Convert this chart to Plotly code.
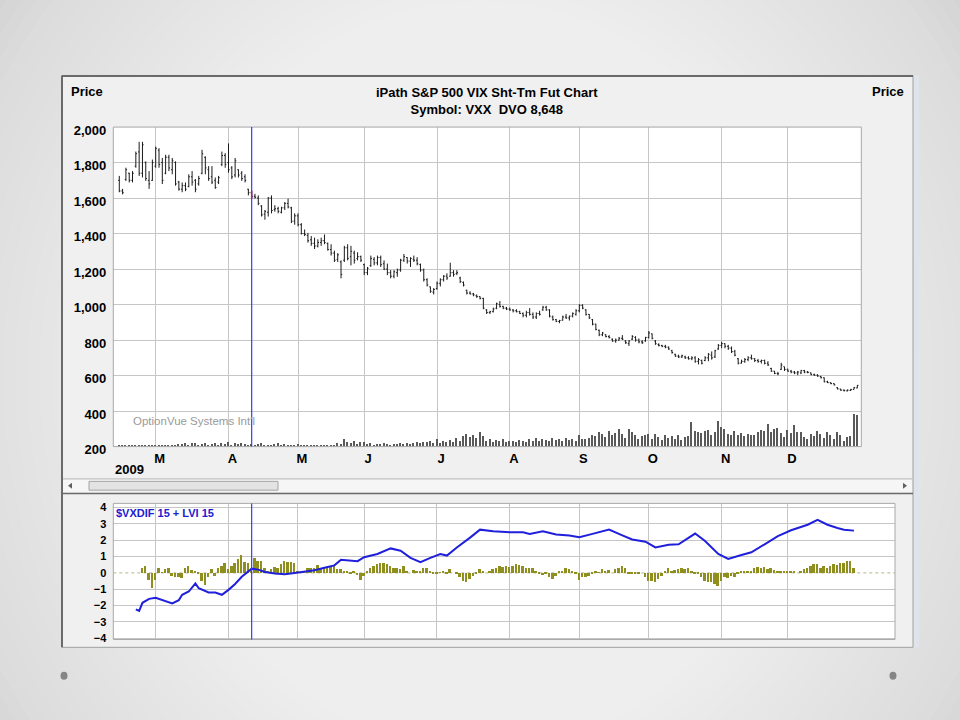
import plotly.graph_objects as go
import pandas as pd

W, H = 960, 720


def px(x):
    return x / W


def py(y):
    return 1 - y / H


# ---------------- data ----------------
holidays = ['2009-02-16', '2009-04-10', '2009-05-25', '2009-07-03',
            '2009-09-07', '2009-11-26', '2009-12-25']
dates = [d.strftime('%Y-%m-%d') for d in pd.bdate_range('2009-02-12', '2009-12-31')
         if d.strftime('%Y-%m-%d') not in holidays]

opens = [1700, 1640, 1705, 1740, 1700, 1780, 1860, 1740, 1800, 1700,
         1700, 1780, 1870, 1800, 1740, 1830, 1760, 1800, 1690, 1650,
         1670, 1665, 1720, 1700, 1680, 1740, 1830, 1760, 1720, 1700,
         1690, 1790, 1840, 1800, 1770, 1730, 1760, 1740, 1720, 1650,
         1630, 1610, 1600, 1555, 1510, 1520, 1600, 1535, 1540, 1520,
         1545, 1570, 1545, 1470, 1500, 1450, 1400, 1390, 1365, 1345,
         1330, 1350, 1360, 1345, 1310, 1290, 1255, 1240, 1250, 1320,
         1270, 1290, 1260, 1270, 1225, 1180, 1220, 1255, 1235, 1265,
         1230, 1200, 1180, 1160, 1180, 1195, 1250, 1265, 1245, 1255,
         1250, 1225, 1195, 1140, 1100, 1070, 1090, 1120, 1140, 1160,
         1160, 1180, 1175, 1150, 1125, 1080, 1065, 1060, 1050, 1045,
         1035, 970, 955, 960, 980, 1000, 990, 980, 975, 970,
         965, 960, 950, 940, 955, 945, 930, 950, 970, 985,
         970, 930, 915, 905, 912, 930, 925, 935, 945, 965,
         995, 970, 945, 915, 890, 855, 830, 830, 820, 805,
         795, 800, 810, 795, 780, 805, 815, 800, 790, 795,
         815, 835, 795, 775, 770, 765, 760, 740, 720, 710,
         705, 705, 700, 695, 700, 680, 685, 685, 700, 715,
         705, 750, 770, 780, 765, 755, 735, 695, 670, 680,
         690, 700, 695, 685, 680, 685, 670, 640, 625, 612,
         635, 650, 635, 625, 620, 615, 615, 628, 620, 615,
         605, 602, 595, 588, 565, 560, 555, 532, 524, 518,
         514, 516, 522, 530]

highs = [1725, 1652, 1771, 1743, 1752, 1862, 1917, 1917, 1807, 1752,
         1817, 1890, 1881, 1826, 1844, 1844, 1826, 1807, 1697, 1688,
         1688, 1734, 1752, 1707, 1725, 1872, 1835, 1780, 1780, 1716,
         1725, 1862, 1853, 1908, 1780, 1826, 1762, 1752, 1734, 1652,
         1642, 1624, 1615, 1560, 1533, 1606, 1615, 1560, 1551, 1551,
         1578, 1597, 1551, 1514, 1514, 1459, 1423, 1404, 1386, 1377,
         1368, 1377, 1395, 1349, 1340, 1304, 1290, 1249, 1331, 1340,
         1331, 1304, 1295, 1276, 1231, 1212, 1276, 1267, 1276, 1276,
         1249, 1231, 1194, 1194, 1203, 1258, 1285, 1267, 1267, 1276,
         1267, 1231, 1203, 1148, 1102, 1093, 1130, 1148, 1166, 1176,
         1236, 1194, 1194, 1157, 1130, 1084, 1075, 1066, 1057, 1047,
         1038, 974, 965, 983, 1011, 1020, 993, 987, 983, 974,
         974, 965, 956, 965, 980, 956, 956, 965, 993, 993,
         974, 938, 919, 914, 938, 947, 938, 956, 974, 1002,
         1002, 974, 947, 919, 892, 859, 846, 833, 828, 809,
         809, 818, 828, 800, 800, 828, 822, 809, 800, 818,
         851, 837, 800, 782, 773, 773, 764, 745, 723, 718,
         718, 712, 709, 709, 709, 699, 690, 709, 727, 736,
         745, 778, 791, 782, 773, 764, 745, 699, 690, 699,
         709, 718, 699, 694, 690, 690, 681, 644, 626, 621,
         672, 650, 639, 632, 626, 626, 632, 632, 626, 617,
         611, 608, 599, 589, 571, 562, 556, 534, 525, 522,
         522, 525, 536, 547]

lows = [1633, 1621, 1697, 1688, 1688, 1771, 1725, 1716, 1697, 1652,
        1697, 1771, 1771, 1679, 1734, 1752, 1734, 1670, 1642, 1633,
        1639, 1661, 1670, 1633, 1670, 1734, 1734, 1697, 1679, 1652,
        1679, 1780, 1771, 1743, 1707, 1716, 1716, 1697, 1688, 1615,
        1597, 1597, 1560, 1496, 1478, 1496, 1514, 1523, 1514, 1514,
        1533, 1542, 1459, 1450, 1441, 1395, 1386, 1349, 1331, 1313,
        1322, 1331, 1340, 1304, 1276, 1240, 1240, 1148, 1240, 1249,
        1221, 1231, 1249, 1240, 1166, 1166, 1212, 1221, 1221, 1212,
        1194, 1166, 1148, 1148, 1157, 1185, 1240, 1231, 1212, 1240,
        1221, 1185, 1130, 1102, 1066, 1057, 1084, 1102, 1130, 1139,
        1157, 1157, 1166, 1121, 1102, 1057, 1057, 1047, 1038, 1029,
        974, 947, 947, 956, 974, 983, 974, 969, 965, 956,
        956, 947, 928, 928, 938, 919, 919, 938, 965, 965,
        928, 910, 901, 895, 910, 919, 910, 928, 938, 956,
        974, 938, 919, 883, 855, 822, 822, 815, 809, 791,
        785, 796, 800, 778, 767, 800, 791, 782, 778, 791,
        809, 804, 773, 764, 760, 754, 745, 723, 705, 699,
        699, 694, 690, 687, 672, 663, 663, 681, 681, 690,
        699, 745, 754, 754, 745, 727, 709, 663, 668, 672,
        681, 690, 676, 672, 668, 663, 654, 621, 608, 602,
        632, 626, 621, 613, 608, 602, 608, 613, 613, 602,
        599, 593, 584, 562, 558, 551, 544, 522, 514, 511,
        511, 513, 522, 529]

closes = [1640, 1630, 1760, 1700, 1740, 1850, 1740, 1900, 1710, 1680,
          1800, 1880, 1790, 1700, 1830, 1770, 1810, 1680, 1650, 1670,
          1650, 1720, 1690, 1650, 1710, 1850, 1770, 1710, 1690, 1660,
          1715, 1840, 1790, 1760, 1720, 1810, 1730, 1710, 1700, 1630,
          1610, 1605, 1570, 1505, 1525, 1600, 1530, 1540, 1525, 1545,
          1570, 1550, 1470, 1500, 1450, 1400, 1395, 1360, 1345, 1330,
          1350, 1360, 1350, 1310, 1290, 1250, 1280, 1170, 1320, 1260,
          1300, 1250, 1270, 1250, 1180, 1205, 1260, 1235, 1265, 1225,
          1200, 1180, 1160, 1185, 1195, 1250, 1270, 1245, 1260, 1250,
          1230, 1195, 1140, 1110, 1075, 1085, 1120, 1140, 1160, 1150,
          1180, 1170, 1180, 1130, 1110, 1065, 1060, 1055, 1045, 1035,
          980, 955, 960, 975, 1005, 990, 980, 975, 970, 965,
          960, 950, 940, 955, 945, 930, 950, 945, 985, 970,
          935, 915, 905, 910, 930, 925, 935, 950, 965, 995,
          980, 945, 925, 890, 860, 830, 840, 820, 815, 795,
          800, 810, 805, 785, 795, 820, 800, 790, 785, 815,
          840, 810, 780, 770, 765, 760, 750, 730, 710, 705,
          712, 700, 695, 700, 680, 690, 670, 700, 720, 700,
          740, 770, 780, 765, 755, 735, 715, 670, 680, 690,
          700, 695, 685, 680, 685, 670, 660, 625, 612, 610,
          660, 635, 625, 620, 615, 620, 628, 620, 618, 605,
          602, 598, 588, 565, 560, 555, 548, 525, 518, 515,
          518, 522, 532, 545]

volume = [1, 1, 1, 1, 1, 1, 1, 1, 1, 1, 1, 1, 1, 1, 1, 1, 1,
          2, 3, 3, 4, 2, 4, 4, 2, 3, 4, 2, 3, 4, 2, 4, 3, 5, 2, 4, 3, 4, 3, 2,
          3, 2, 3, 4, 2, 2, 2, 3, 4, 2, 3, 2, 2, 2, 3, 2,
          1, 1, 2, 1, 1, 2, 1, 2, 1, 2, 4, 3,
          8, 5, 4, 6, 3, 5,
          5, 3, 4, 2, 3, 3, 4, 3, 2, 3, 3, 4, 3, 4, 3, 4, 5, 4, 5, 5, 6, 4,
          8, 4, 6, 5, 7, 5, 9, 6, 11, 13,
          10, 12, 9, 15, 11,
          6, 8, 5, 7, 6, 8, 5, 6,
          6, 5, 7, 6, 5, 8, 6, 9, 6, 8, 7, 6, 9, 7, 8, 6, 9, 7, 8, 6, 12,
          8, 8, 9, 12, 11, 15, 13, 10, 16, 12, 14,
          18, 13, 9, 18, 15, 12, 8, 11,
          12, 13, 8, 13, 10, 7, 12, 9, 11, 8, 12, 7, 10, 11,
          25,
          16, 15, 14, 16, 17, 12, 15,
          26, 20,
          18, 13, 12, 16, 12, 14, 11, 13, 12, 12, 15, 17, 16,
          23,
          15, 18, 19, 14,
          10, 17, 14, 22, 15, 15,
          10, 8, 13, 11, 16, 13, 9, 15, 12, 8, 15,
          12, 6, 10, 11,
          33, 32]

# $VXDIF 15 histogram (one value per trading day, None where no bar)
vxdif = [None, None, None, None, None, None, None,
         0.26, 0.40, -0.44, -0.94, -0.44, 0.30, 0.02, 0.20, 0.26, -0.20,
         -0.28, -0.28, -0.34, 0.26, 0.42, 0.16, 0.05, -0.10, -0.54, -0.74,
         -0.30, 0.20, -0.20, 0.30, 0.40, 0.56, 0.20, 0.40, 0.56, 0.80,
         1.06, 0.66, 0.60, 0.10, 0.90, 0.72, 0.70, 0.30, 0.10, 0.20,
         0.36, 0.30, 0.50, 0.70, 0.66, 0.66, 0.60, 0.05, 0.00, 0.10,
         0.26, 0.30, 0.26, 0.44, 0.30, 0.34, 0.30, 0.34, 0.44, 0.20,
         0.20, 0.10, 0.05, -0.10, 0.05, -0.14, -0.44, -0.20, 0.10, 0.30,
         0.40, 0.50, 0.56, 0.56, 0.50, 0.40, 0.30, 0.30, 0.20, 0.40,
         0.10, 0.00, 0.14, 0.05, 0.10, 0.30, 0.30, 0.10, -0.05, -0.10,
         0.02, 0.05, -0.05, 0.20, 0.00, -0.10, -0.30, -0.50, -0.60, -0.40,
         -0.20, -0.05, 0.20, 0.05, 0.00, 0.10, 0.20, 0.30, 0.40, 0.36,
         0.40, 0.36, 0.40, 0.50, 0.46, 0.40, 0.30, 0.30, 0.26, 0.10,
         -0.10, -0.15, -0.05, -0.30, -0.40, -0.20, 0.05, 0.10, 0.26, 0.20,
         0.10, -0.05, -0.44, -0.30, -0.30, -0.20, -0.10, 0.05, 0.02, 0.20,
         0.05, 0.14, 0.00, 0.20, 0.30, 0.40, 0.30, -0.05, -0.10, -0.10,
         -0.05, 0.00, -0.30, -0.50, -0.50, -0.56, -0.40, -0.20, 0.05, 0.26,
         0.10, 0.14, 0.20, 0.26, 0.20, 0.30, 0.10, -0.10, -0.10, -0.30,
         -0.50, -0.56, -0.60, -0.70, -0.80, -0.50, -0.30, -0.36, -0.24, -0.30,
         -0.10, 0.05, 0.10, 0.05, 0.10, 0.30, 0.36, 0.30, 0.36, 0.20,
         0.30, 0.14, 0.10, 0.10, 0.10, 0.10, 0.05, 0.05, 0.00, 0.10,
         0.20, 0.30, 0.40, 0.50, 0.50, 0.30, 0.40, 0.30, 0.40, 0.50,
         0.46, 0.60, 0.60, 0.70, 0.70, 0.30,
         None]

# LVI 15 line: trading-day index -> value
lvi_day = [5, 6, 7, 9, 11, 12, 14, 16, 18, 19, 21, 23, 24, 27, 29, 31, 33, 35, 37, 39,
           40, 42, 44, 47, 50, 53, 56, 59, 62, 65, 67, 70, 72, 74, 78, 82, 85, 88, 91, 94,
           97, 99, 102, 106, 109, 113, 118, 122, 124, 128, 132, 136, 139, 143, 148, 152,
           155, 159, 162, 166, 169, 174, 177, 181, 184, 188, 191, 195, 199, 203, 206, 208,
           211, 214, 217, 219, 222]
lvi_val = [-2.24, -2.33, -1.83, -1.59, -1.53, -1.59, -1.73, -1.87, -1.67, -1.34,
           -1.14, -0.64, -0.94, -1.20, -1.20, -1.34, -1.04, -0.68, -0.24, 0.06,
           0.26, 0.20, 0.06, -0.04, -0.08, 0.00, 0.06, 0.16, 0.32, 0.46,
           0.80, 0.74, 0.72, 0.96, 1.16, 1.50, 1.36, 0.92, 0.66, 0.92,
           1.16, 1.06, 1.56, 2.16, 2.65, 2.55, 2.49, 2.49, 2.39, 2.55,
           2.35, 2.29, 2.19, 2.39, 2.65, 2.30, 2.05, 1.91, 1.56, 1.72,
           1.75, 2.41, 1.95, 1.16, 0.86, 1.10, 1.26, 1.75, 2.25, 2.61,
           2.81, 2.95, 3.25, 2.95, 2.75, 2.65, 2.59]

price_ticks = [200, 400, 600, 800, 1000, 1200, 1400, 1600, 1800, 2000]
ind_ticks = [-4, -3, -2, -1, 0, 1, 2, 3, 4]
marker_day = '2009-04-13'

assert len(dates) == len(opens) == len(highs) == len(lows) == len(closes) == len(volume) == len(vxdif)

month_start = [d for i, d in enumerate(dates) if i > 0 and d[5:7] != dates[i - 1][5:7]]
month_text = [pd.Timestamp(d).strftime('%b')[0] for d in month_start]
mk = dates.index(marker_day)

FONT = 'Liberation Sans, Arial, sans-serif'
GRID = '#c6c6c6'

fig = go.Figure()

fig.add_trace(go.Ohlc(
    x=dates, open=opens, high=highs, low=lows, close=closes,
    xaxis='x', yaxis='y', tickwidth=0.35,
    increasing=dict(line=dict(color='#1a1a1a', width=1)),
    decreasing=dict(line=dict(color='#1a1a1a', width=1)),
    showlegend=False, hoverinfo='skip'))

fig.add_trace(go.Scatter(
    x=[dates[mk], dates[mk]], y=[lows[mk], highs[mk]], mode='lines',
    line=dict(color='#e03030', width=1.5), xaxis='x', yaxis='y',
    showlegend=False, hoverinfo='skip'))

fig.add_trace(go.Bar(
    x=dates, y=volume, xaxis='x', yaxis='y3', width=0.4,
    marker=dict(color='#5a5a5a', line=dict(width=0)),
    showlegend=False, hoverinfo='skip'))

fig.add_trace(go.Bar(
    x=dates, y=vxdif, xaxis='x2', yaxis='y4', width=0.6,
    marker=dict(color='#8f8f1f', line=dict(width=0)),
    showlegend=False, hoverinfo='skip'))

fig.add_trace(go.Scatter(
    x=[dates[i] for i in lvi_day], y=lvi_val, mode='lines',
    line=dict(color='#1f1fdc', width=2), xaxis='x2', yaxis='y4',
    showlegend=False, hoverinfo='skip'))

# ---------------- shapes ----------------
shapes = []
# slide radial gradient (many faint concentric layers)
NL = 36
for k in range(NL):
    f = k / (NL - 1)
    rx = 600 - f * 430
    ry = 660 - f * 440
    cx, cy = 480, 380
    shapes.append(dict(type='circle', xref='paper', yref='paper', layer='below',
                       x0=px(cx - rx), x1=px(cx + rx), y0=py(cy + ry), y1=py(cy - ry),
                       fillcolor='rgba(255,255,255,0.055)', line=dict(width=0)))


def prect(x0, y0, x1, y1, fill, line=None, lw=1, layer='below'):
    shapes.append(dict(type='rect', xref='paper', yref='paper', layer=layer,
                       x0=px(x0), x1=px(x1), y0=py(y1), y1=py(y0),
                       fillcolor=fill, line=dict(color=line or 'rgba(0,0,0,0)', width=lw if line else 0)))


def pline(x0, y0, x1, y1, color, lw=1, dash='solid', layer='below'):
    shapes.append(dict(type='line', xref='paper', yref='paper', layer=layer,
                       x0=px(x0), x1=px(x1), y0=py(y0), y1=py(y1),
                       line=dict(color=color, width=lw, dash=dash)))


prect(913, 73, 919, 657, '#dfe4ea')
prect(62, 73, 913, 657, '#f0f0f0', '#a0a0a0')
pline(62, 657, 62, 73, '#6a6a6a', 2)
pline(62, 73.5, 913, 73.5, '#6a6a6a', 2)
# scrollbar between the panels
pline(63, 485, 912, 485, '#b8b8b8')
prect(63, 486, 912, 498, '#f6f6f6')
prect(89, 487.5, 278, 496.5, '#e3e3e3', '#a4a4a4')
shapes.append(dict(type='path', xref='paper', yref='paper', layer='below',
                   path=f'M {px(68)},{py(492)} L {px(72)},{py(489)} L {px(72)},{py(495)} Z',
                   fillcolor='#606060', line=dict(width=0)))
shapes.append(dict(type='path', xref='paper', yref='paper', layer='below',
                   path=f'M {px(907)},{py(492)} L {px(903)},{py(489)} L {px(903)},{py(495)} Z',
                   fillcolor='#606060', line=dict(width=0)))
pline(62, 500, 913, 500, '#6a6a6a', 1.5)

# plot area backgrounds
for xr, yr in (('x', 'y'), ('x2', 'y4')):
    shapes.append(dict(type='rect', xref=f'{xr} domain', yref=f'{yr} domain', layer='below',
                       x0=0, x1=1, y0=0, y1=1, fillcolor='white', line=dict(width=0)))
# dotted zero line of the histogram
shapes.append(dict(type='line', xref='x2 domain', yref='y4', layer='below',
                   x0=0, x1=1, y0=0, y1=0, line=dict(color='#b4b48c', width=1, dash='dot')))
# plot borders
for xr, yr in (('x', 'y'), ('x2', 'y4')):
    shapes.append(dict(type='rect', xref=f'{xr} domain', yref=f'{yr} domain', layer='above',
                       x0=0, x1=1, y0=0, y1=1, line=dict(color='#a8a8a8', width=1)))
# blue marker line in both panels
shapes.append(dict(type='line', xref='x', yref='y domain', layer='above',
                   x0=marker_day, x1=marker_day, y0=0, y1=1, line=dict(color='#3a3aff', width=1.2)))
shapes.append(dict(type='line', xref='x2', yref='y4 domain', layer='above',
                   x0=marker_day, x1=marker_day, y0=0, y1=1, line=dict(color='#3a3aff', width=1.2)))
# slide bullets
for cx in (64, 893):
    shapes.append(dict(type='circle', xref='paper', yref='paper', layer='above',
                       x0=px(cx - 3.5), x1=px(cx + 3.5), y0=py(686 + 4), y1=py(686 - 4),
                       fillcolor='#858585', line=dict(width=0)))

bold13 = dict(family=FONT, size=13, color='#000000', weight='bold')
annotations = [
    dict(text='Price', x=px(105), y=py(89), xanchor='right', yanchor='middle', font=bold13),
    dict(text='Price', x=px(870), y=py(89), xanchor='left', yanchor='middle', font=bold13),
    dict(text='iPath S&P 500 VIX Sht-Tm Fut Chart<br>Symbol: VXX\u00a0 DVO 8,648',
         x=px(487), y=py(99.5), xanchor='center', yanchor='middle', font=bold13),
    dict(text='2009', x=px(113), y=py(475), xanchor='left', yanchor='middle', font=bold13),
    dict(text="OptionVue Systems Int'l", x=px(131), y=py(426), xanchor='left', yanchor='middle',
         font=dict(family=FONT, size=11.5, color='#9a9a9a')),
    dict(text='$VXDIF 15 + LVI 15', x=px(114), y=py(520), xanchor='left', yanchor='middle',
         font=dict(family=FONT, size=11, color='#2020d0', weight='bold')),
]
for a in annotations:
    a.update(xref='paper', yref='paper', showarrow=False)

fig.update_layout(
    width=W, height=H, autosize=False,
    margin=dict(l=0, r=0, t=0, b=0),
    paper_bgcolor='#d2d2d2',
    plot_bgcolor='rgba(0,0,0,0)',
    showlegend=False,
    bargap=0,
    shapes=shapes,
    annotations=annotations,
    xaxis=dict(domain=[px(113.3), px(861.3)], anchor='y', type='category',
               categoryorder='array', categoryarray=dates,
               range=[-1.81, 224.2], tickvals=month_start, ticktext=month_text,
               showgrid=True, gridcolor=GRID, gridwidth=1, ticks='', zeroline=False,
               showline=False, tickfont=bold13, ticklabelshift=4, ticklabelstandoff=2,
               rangeslider=dict(visible=False), fixedrange=True),
    yaxis=dict(domain=[py(452), py(125.7)], anchor='x', range=[200, 2000],
               tickvals=price_ticks, tickformat=',d', showgrid=True, gridcolor=GRID,
               ticks='', zeroline=False, showline=False, tickfont=bold13,
               ticklabelstandoff=6, ticklabelshift=3, fixedrange=True),
    yaxis2=dict(overlaying='y', side='right', anchor='x', range=[200, 2000],
                tickvals=price_ticks, tickformat=',d', showgrid=False, ticks='',
                zeroline=False, showline=False, tickfont=bold13,
                ticklabelstandoff=6, ticklabelshift=3, fixedrange=True),
    yaxis3=dict(overlaying='y', anchor='x', range=[0, 326.3], visible=False, fixedrange=True),
    xaxis2=dict(domain=[px(113.3), px(895)], anchor='y4', type='category',
                categoryorder='array', categoryarray=dates,
                range=[-1.81, 234.4], tickvals=month_start, showticklabels=False,
                showgrid=True, gridcolor=GRID, ticks='', zeroline=False, showline=False,
                fixedrange=True),
    yaxis4=dict(domain=[py(649), py(510)], anchor='x2', range=[-4.08, 4.26],
                tickvals=ind_ticks, showgrid=False, ticks='', zeroline=False, showline=False,
                tickfont=dict(family=FONT, size=11, color='#000000', weight='bold'),
                ticklabelstandoff=6,
                minor=dict(tickvals=[-4, -3, -2, -1, 1, 2, 3, 4], showgrid=True,
                           gridcolor=GRID, ticks=''),
                fixedrange=True),
)

# remove the default page margin so the 960x720 figure fills the window exactly
post = """
var de = document.documentElement, bd = document.body;
de.style.margin = '0'; de.style.padding = '0';
bd.style.margin = '0'; bd.style.padding = '0'; bd.style.overflow = 'hidden';
"""

fig.write_html('out.html', config={'responsive': False, 'displayModeBar': False},
               post_script=post)
